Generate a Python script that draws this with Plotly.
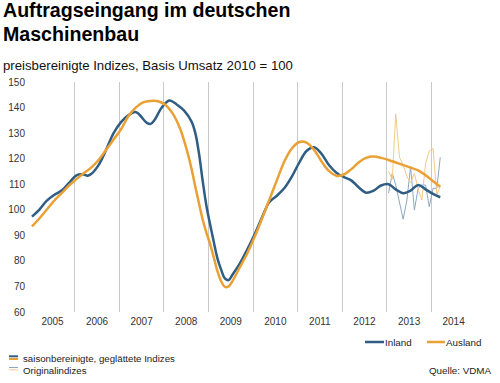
import plotly.graph_objects as go

# ---------------- data ----------------
inland_months = ["2005-01","2005-03","2005-05","2005-07","2005-09","2005-11",
                 "2006-01","2006-03","2006-04","2006-05","2006-07","2006-09","2006-11",
                 "2007-01","2007-03","2007-05","2007-06","2007-08","2007-09","2007-10","2007-12",
                 "2008-02","2008-04","2008-06","2008-08","2008-09","2008-10","2008-11","2008-12",
                 "2009-01","2009-02","2009-03","2009-04","2009-05","2009-06","2009-07","2009-09","2009-11",
                 "2010-01","2010-03","2010-05","2010-07","2010-09","2010-11",
                 "2011-01","2011-03","2011-05","2011-07","2011-09","2011-11",
                 "2012-01","2012-03","2012-05","2012-07","2012-09","2012-11",
                 "2013-01","2013-03","2013-05","2013-07","2013-09","2013-11",
                 "2014-01","2014-03"]
inland_values = [97.3,100,103.5,105.8,107.5,110.5,
                 113.5,113.8,113.3,114,117.5,123.5,130,
                 134.3,137,138.3,137.2,134,133.6,135,140,
                 142.8,141.2,138.8,134.5,130,122,111,101.5,
                 94,87,81,76.5,73.2,72.5,74.5,79,84.5,
                 90.5,97,103,105.5,108.5,113,
                 118.5,123,124.5,122,117.5,114.5,
                 112.8,111.5,108.8,106.7,107.5,109.5,
                 110,108,106.5,107.5,109.7,108,
                 106.2,104.9]

ausland_months = ["2005-01","2005-03","2005-05","2005-07","2005-09","2005-11",
                  "2006-01","2006-03","2006-05","2006-07","2006-09","2006-11",
                  "2007-01","2007-03","2007-05","2007-07","2007-09","2007-11",
                  "2008-01","2008-03","2008-05","2008-07","2008-08","2008-09","2008-10","2008-11","2008-12",
                  "2009-01","2009-02","2009-03","2009-04","2009-05","2009-06","2009-07","2009-09","2009-11",
                  "2010-01","2010-03","2010-05","2010-07","2010-09","2010-11",
                  "2011-01","2011-03","2011-05","2011-07","2011-09","2011-11",
                  "2012-01","2012-03","2012-05","2012-07","2012-09","2012-11",
                  "2013-01","2013-03","2013-05","2013-07","2013-09","2013-11",
                  "2014-01","2014-03"]
ausland_values = [93.5,96.5,100,103.5,106.5,109.5,
                  112,114.3,116.5,119.5,123.5,127.5,
                  131.5,136.5,140,142,142.6,142.5,
                  141,137.5,131.5,122,116,109,102.5,96,91,
                  86.5,81,76,72,69.8,70,72,77.5,83,
                  89.5,96.5,104,111.5,119,124,
                  126.5,126.3,123.5,119,115.2,113.3,
                  113.8,115.8,118.5,120.3,120.8,120.3,
                  119.5,118.5,117.5,116.5,115.4,113.5,
                  111.2,109]

orig_months = ["2013-01","2013-02","2013-03","2013-04","2013-05","2013-06","2013-07",
               "2013-08","2013-09","2013-10","2013-11","2013-12","2014-01","2014-02","2014-03"]
inland_orig = [106.5,114.3,109.7,102.5,96.3,103.8,116.9,99.9,108.4,109.7,109.7,101.2,108.4,108.4,120.5]
ausland_orig = [115,112,137.5,120.5,117.5,113,110.5,114.3,108,103.8,118.2,123,124,106,109]

year_labels = ["2005","2006","2007","2008","2009","2010","2011","2012","2013","2014"]

# ---------------- styling ----------------
BLUE = "#2f5d83"
ORANGE = "#e9a135"
BLUE_L = "#8ea7c0"
ORANGE_L = "#f3c987"
GRID = "#c9c9c9"
FONT = "Liberation Sans, Arial, sans-serif"

W, H = 500, 383
ML, MR, MT, MB = 30, 24, 82, 71
PW, PH = W - ML - MR, H - MT - MB

def px(x):
    return (x - ML) / PW

def py(y):
    return (H - MB - y) / PH

def mid(m):
    return m + "-15"

fig = go.Figure()
fig.add_trace(go.Scatter(x=[mid(m) for m in orig_months], y=inland_orig, mode="lines",
                         line=dict(color=BLUE_L, width=1), showlegend=False, hoverinfo="skip"))
fig.add_trace(go.Scatter(x=[mid(m) for m in orig_months], y=ausland_orig, mode="lines",
                         line=dict(color=ORANGE_L, width=1), showlegend=False, hoverinfo="skip"))
fig.add_trace(go.Scatter(x=[mid(m) for m in inland_months], y=inland_values, mode="lines",
                         line=dict(color=BLUE, width=2.5, shape="spline", smoothing=1.0),
                         name="Inland", showlegend=False))
fig.add_trace(go.Scatter(x=[mid(m) for m in ausland_months], y=ausland_values, mode="lines",
                         line=dict(color=ORANGE, width=2.5, shape="spline", smoothing=1.0),
                         name="Ausland", showlegend=False))

fig.update_xaxes(type="date", range=["2004-12-30", "2015-01-02"],
                 tick0="2005-01-01", dtick="M12", ticklabelmode="period", tickformat="%Y",
                 showgrid=True, gridcolor=GRID, gridwidth=1, zeroline=False, showline=False,
                 ticks="", automargin=False, ticklabelstandoff=2,
                 tickfont=dict(family=FONT, size=10, color="#333333"))
fig.update_yaxes(range=[60, 150], dtick=10, showgrid=False, zeroline=False, showline=False,
                 ticks="", ticklabelstandoff=4, automargin=False,
                 tickfont=dict(family=FONT, size=10, color="#333333"))

ann = []
def text(x, y, s, size, anchor="left", color="#000000"):
    ann.append(dict(x=px(x), y=py(y), xref="paper", yref="paper", text=s, showarrow=False,
                    xanchor=anchor, yanchor="middle", font=dict(family=FONT, size=size, color=color)))

text(1, 10, "<b>Auftragseingang im deutschen</b>", 19.6)
text(1, 33.5, "<b>Maschinenbau</b>", 19.6)
text(1, 66, "preisbereinigte Indizes, Basis Umsatz 2010 = 100", 13.2, color="#111111")
text(383, 342, "Inland", 9.8, color="#222222")
text(444, 342, "Ausland", 9.8, color="#222222")
text(21, 358.3, "saisonbereinigte, geglättete Indizes", 9.7, color="#222222")
text(21, 370, "Originalindizes", 9.7, color="#222222")
text(494, 370, "Quelle: VDMA", 9.8, anchor="right", color="#222222")

shapes = []
def seg(x0, x1, y, color, w):
    shapes.append(dict(type="line", xref="paper", yref="paper", x0=px(x0), x1=px(x1),
                       y0=py(y), y1=py(y), line=dict(color=color, width=w)))

seg(365, 384, 342, BLUE, 2.5)
seg(427, 445, 342, ORANGE, 2.5)
seg(9, 18, 356.3, BLUE, 2)
seg(9, 18, 359, ORANGE, 2)
seg(9, 18, 367.5, BLUE_L, 1)
seg(9, 18, 369.8, ORANGE_L, 1)

fig.update_layout(width=W, height=H, autosize=False, margin=dict(l=ML, r=MR, t=MT, b=MB),
                  paper_bgcolor="white", plot_bgcolor="white",
                  annotations=ann, shapes=shapes, hovermode=False,
                  font=dict(family=FONT))

fig.write_html("out.html", config={"displayModeBar": False, "staticPlot": True},
               post_script="document.body.style.margin='0px';document.body.style.overflow='hidden';")
